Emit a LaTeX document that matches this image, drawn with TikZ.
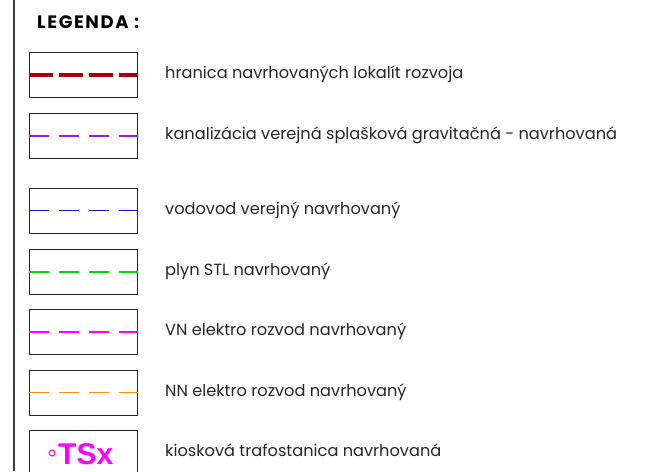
\documentclass[tikz,border=0pt]{standalone}
\usepackage{fontspec}
\setmainfont{Poppins}
\newfontfamily\arialfont{Liberation Sans}
\usetikzlibrary{positioning}

\definecolor{hranred}{RGB}{170,0,0}
\definecolor{kanviolet}{RGB}{150,30,230}
\definecolor{vodblue}{RGB}{20,20,180}
\definecolor{plynlime}{RGB}{0,220,0}
\definecolor{vnmagenta}{RGB}{255,0,255}
\definecolor{nnorange}{RGB}{255,140,20}

\begin{document}
\begin{tikzpicture}[x=1pt,y=-1pt,
  legbox/.style={draw=black!85,line width=1pt,minimum width=108pt,minimum height=45pt,inner sep=0pt},
  legtext/.style={anchor=base west,inner sep=0pt,text=black!85,font=\fontsize{16.2}{18}\selectfont},
  thinline/.style={line width=1.4pt,dash pattern=on 20pt off 10pt}]
  \useasboundingbox (0,0) rectangle (650,471);
  \draw[black!75,line width=2pt] (14,0) -- (14,471);
  \node[anchor=base west,inner sep=0pt,font=\bfseries\fontsize{18}{20}\selectfont\addfontfeature{LetterSpace=9}] (title) at (37,28.5) {LEGENDA :};

  % rows
  \node[legbox] (hran) at (83,75) {};
  \node[legbox] (kan) at (83,135.5) {};
  \node[legbox] (vod) at (83,210.5) {};
  \node[legbox] (plyn) at (83,271.5) {};
  \node[legbox] (vn) at (83,332) {};
  \node[legbox] (nn) at (83,392.5) {};
  \node[legbox] (ts) at (83,453) {};

  \draw[hranred,line width=3.3pt,dash pattern=on 24pt off 6pt] (hran.west) -- (hran.east);
  \draw[thinline,draw=kanviolet,line width=2pt] (kan.west) -- (kan.east);
  \draw[thinline,draw=vodblue] (vod.west) -- (vod.east);
  \draw[thinline,draw=plynlime,line width=2pt] (plyn.west) -- (plyn.east);
  \draw[thinline,draw=vnmagenta] (vn.west) -- (vn.east);
  \draw[thinline,draw=nnorange] (nn.west) -- (nn.east);

  \node[circle,draw=vnmagenta,line width=1pt,minimum size=6pt,inner sep=0pt] (tsdot) at (52,453) {};
  \node[anchor=base west,inner sep=0pt,text=vnmagenta,font=\arialfont\bfseries\fontsize{30}{32}\selectfont] (tsx) at (58,464) {TSx};

  \node[legtext] (hrant) at (165,78.5) {hranica navrhovaných lokalít rozvoja};
  \node[legtext] (kant) at (165,139) {kanalizácia verejná splašková gravitačná - navrhovaná};
  \node[legtext] (vodt) at (165,214) {vodovod verejný navrhovaný};
  \node[legtext] (plynt) at (165,275) {plyn STL navrhovaný};
  \node[legtext] (vnt) at (165,335.5) {VN elektro rozvod navrhovaný};
  \node[legtext] (nnt) at (165,396) {NN elektro rozvod navrhovaný};
  \node[legtext] (tst) at (165,456.5) {kiosková trafostanica navrhovaná};
\end{tikzpicture}
\end{document}
